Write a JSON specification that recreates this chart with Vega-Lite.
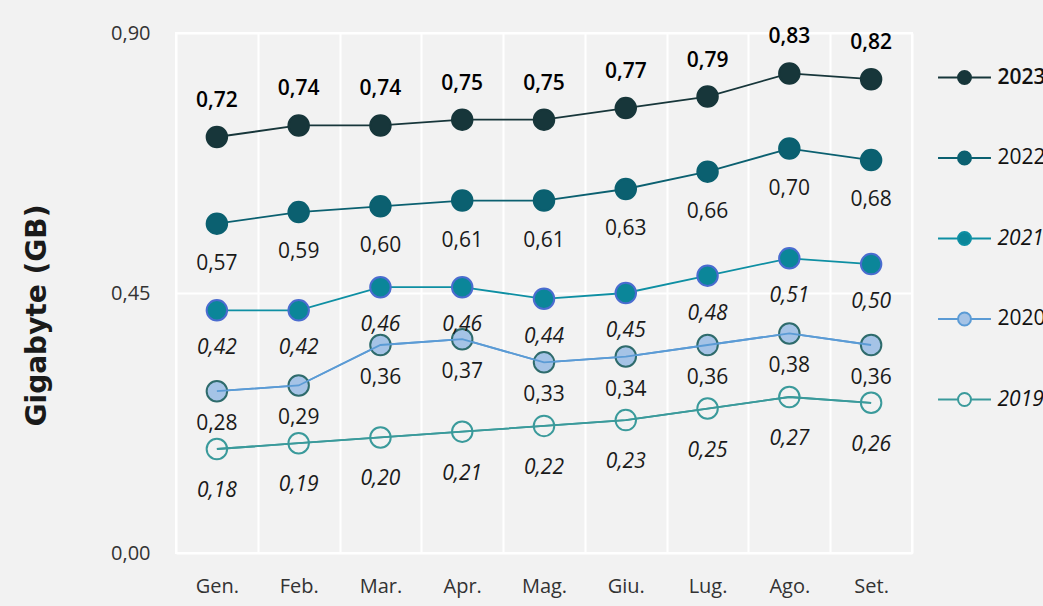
{
  "$schema": "https://vega.github.io/schema/vega-lite/v6.json",
  "width": 736,
  "height": 520,
  "autosize": {"type": "none"},
  "padding": {"left": 176, "top": 33, "right": 131, "bottom": 53},
  "background": "#f2f2f2",
  "config": {
    "locale": {"number": {"decimal": ",", "thousands": ".", "grouping": [3], "currency": ["", " €"]}},
    "view": {"stroke": "#ffffff", "strokeWidth": 2},
    "font": "Open Sans"
  },
  "data": {
    "values": [
      {"month": "Gen.", "year": "2023", "value": 0.72},
      {"month": "Feb.", "year": "2023", "value": 0.74},
      {"month": "Mar.", "year": "2023", "value": 0.74},
      {"month": "Apr.", "year": "2023", "value": 0.75},
      {"month": "Mag.", "year": "2023", "value": 0.75},
      {"month": "Giu.", "year": "2023", "value": 0.77},
      {"month": "Lug.", "year": "2023", "value": 0.79},
      {"month": "Ago.", "year": "2023", "value": 0.83},
      {"month": "Set.", "year": "2023", "value": 0.82},
      {"month": "Gen.", "year": "2022", "value": 0.57},
      {"month": "Feb.", "year": "2022", "value": 0.59},
      {"month": "Mar.", "year": "2022", "value": 0.60},
      {"month": "Apr.", "year": "2022", "value": 0.61},
      {"month": "Mag.", "year": "2022", "value": 0.61},
      {"month": "Giu.", "year": "2022", "value": 0.63},
      {"month": "Lug.", "year": "2022", "value": 0.66},
      {"month": "Ago.", "year": "2022", "value": 0.70},
      {"month": "Set.", "year": "2022", "value": 0.68},
      {"month": "Gen.", "year": "2021", "value": 0.42},
      {"month": "Feb.", "year": "2021", "value": 0.42},
      {"month": "Mar.", "year": "2021", "value": 0.46},
      {"month": "Apr.", "year": "2021", "value": 0.46},
      {"month": "Mag.", "year": "2021", "value": 0.44},
      {"month": "Giu.", "year": "2021", "value": 0.45},
      {"month": "Lug.", "year": "2021", "value": 0.48},
      {"month": "Ago.", "year": "2021", "value": 0.51},
      {"month": "Set.", "year": "2021", "value": 0.50},
      {"month": "Gen.", "year": "2020", "value": 0.28},
      {"month": "Feb.", "year": "2020", "value": 0.29},
      {"month": "Mar.", "year": "2020", "value": 0.36},
      {"month": "Apr.", "year": "2020", "value": 0.37},
      {"month": "Mag.", "year": "2020", "value": 0.33},
      {"month": "Giu.", "year": "2020", "value": 0.34},
      {"month": "Lug.", "year": "2020", "value": 0.36},
      {"month": "Ago.", "year": "2020", "value": 0.38},
      {"month": "Set.", "year": "2020", "value": 0.36},
      {"month": "Gen.", "year": "2019", "value": 0.18},
      {"month": "Feb.", "year": "2019", "value": 0.19},
      {"month": "Mar.", "year": "2019", "value": 0.20},
      {"month": "Apr.", "year": "2019", "value": 0.21},
      {"month": "Mag.", "year": "2019", "value": 0.22},
      {"month": "Giu.", "year": "2019", "value": 0.23},
      {"month": "Lug.", "year": "2019", "value": 0.25},
      {"month": "Ago.", "year": "2019", "value": 0.27},
      {"month": "Set.", "year": "2019", "value": 0.26}
    ]
  },
  "encoding": {
    "x": {
      "field": "month",
      "type": "ordinal",
      "sort": ["Gen.", "Feb.", "Mar.", "Apr.", "Mag.", "Giu.", "Lug.", "Ago.", "Set."],
      "scale": {"type": "band", "paddingInner": 0, "paddingOuter": 0},
      "axis": {
        "title": null,
        "labelAngle": 0,
        "domain": false,
        "ticks": false,
        "tickBand": "extent",
        "grid": true,
        "gridColor": "#ffffff",
        "gridWidth": 2,
        "gridOpacity": 1,
        "labelPadding": 23,
        "labelFontSize": 20,
        "labelColor": "#333333",
        "labelFont": "Open Sans"
      }
    },
    "y": {
      "field": "value",
      "type": "quantitative",
      "scale": {"domain": [0, 0.9], "nice": false},
      "axis": {
        "title": "Gigabyte (GB)",
        "values": [0, 0.45, 0.9],
        "format": ".2f",
        "domain": false,
        "ticks": false,
        "grid": true,
        "gridColor": "#ffffff",
        "gridWidth": 2,
        "gridOpacity": 1,
        "labelPadding": 26,
        "labelFontSize": 20,
        "labelColor": "#333333",
        "labelFont": "Open Sans",
        "titleFont": "DejaVu Sans",
        "titleFontSize": 28,
        "titleFontWeight": "bold",
        "titleColor": "#1a1a1a",
        "titleAngle": -90,
        "titleX": -139,
        "titleY": 282,
        "titleAlign": "center",
        "titleBaseline": "middle"
      }
    }
  },
  "layer": [
    {
      "mark": {"type": "line", "strokeWidth": 1.8},
      "encoding": {
        "color": {
          "field": "year",
          "type": "nominal",
          "scale": {"domain": ["2023", "2022", "2021", "2020", "2019"], "range": ["#17363a", "#0b6070", "#0e8fa3", "#5b9bd5", "#3a9a9b"]},
          "legend": {
            "title": null,
            "orient": "right",
            "offset": 8,
            "padding": 30,
            "symbolType": "M-2,0H-0.49M0.49,0H2M-0.49,0A0.49,0.49,0,1,0,0.49,0A0.49,0.49,0,1,0,-0.49,0Z",
            "symbolSize": 700,
            "symbolStrokeWidth": 2,
            "rowPadding": 55.5,
            "labelOffset": 18.5,
            "labelFontSize": 21,
            "labelColor": "#111111",
            "labelFont": "Open Sans",
            "labelLimit": 200,
            "encode": {
              "labels": {
                "update": {
                  "fontStyle": {"signal": "datum.value === '2021' || datum.value === '2019' ? 'italic' : 'normal'"},
                  "fontWeight": {"signal": "datum.value === '2023' ? 600 : 400"}
                }
              }
            }
          }
        }
      }
    },
    {
      "mark": {"type": "point", "filled": true, "size": 420, "strokeWidth": 2, "opacity": 1},
      "encoding": {
        "detail": {"field": "year"},
        "fill": {
          "field": "year",
          "type": "nominal",
          "scale": {"domain": ["2023", "2022", "2021", "2020", "2019"], "range": ["#17363a", "#0b6070", "#0b8699", "#a5c3e6", "rgba(0,0,0,0)"]},
          "legend": null
        },
        "stroke": {
          "field": "year",
          "type": "nominal",
          "scale": {"domain": ["2023", "2022", "2021", "2020", "2019"], "range": ["#17363a", "#0b6070", "#4a6cd0", "#2e6b6c", "#3a9a9b"]},
          "legend": null
        }
      }
    },
    {
      "transform": [{"filter": "datum.year === '2020' || datum.year === '2019'"}],
      "mark": {"type": "line", "strokeWidth": 1.8},
      "encoding": {
        "color": {"field": "year", "type": "nominal"}
      }
    },
    {
      "transform": [{"filter": "datum.year === '2023'"}],
      "mark": {"type": "text", "dy": -36, "fontSize": 21, "fontWeight": 600, "color": "#000000", "font": "Open Sans"},
      "encoding": {"text": {"field": "value", "type": "quantitative", "format": ".2f"}}
    },
    {
      "transform": [{"filter": "datum.year === '2022'"}],
      "mark": {"type": "text", "dy": 40, "fontSize": 21, "color": "#1a1a1a", "font": "Open Sans"},
      "encoding": {"text": {"field": "value", "type": "quantitative", "format": ".2f"}}
    },
    {
      "transform": [{"filter": "datum.year === '2021'"}],
      "mark": {"type": "text", "dy": 38, "fontSize": 21, "fontStyle": "italic", "color": "#1a1a1a", "font": "Open Sans"},
      "encoding": {"text": {"field": "value", "type": "quantitative", "format": ".2f"}}
    },
    {
      "transform": [{"filter": "datum.year === '2020'"}],
      "mark": {"type": "text", "dy": 33, "fontSize": 21, "color": "#1a1a1a", "font": "Open Sans"},
      "encoding": {"text": {"field": "value", "type": "quantitative", "format": ".2f"}}
    },
    {
      "transform": [{"filter": "datum.year === '2019'"}],
      "mark": {"type": "text", "dy": 42, "fontSize": 21, "fontStyle": "italic", "color": "#1a1a1a", "font": "Open Sans"},
      "encoding": {"text": {"field": "value", "type": "quantitative", "format": ".2f"}}
    }
  ]
}
